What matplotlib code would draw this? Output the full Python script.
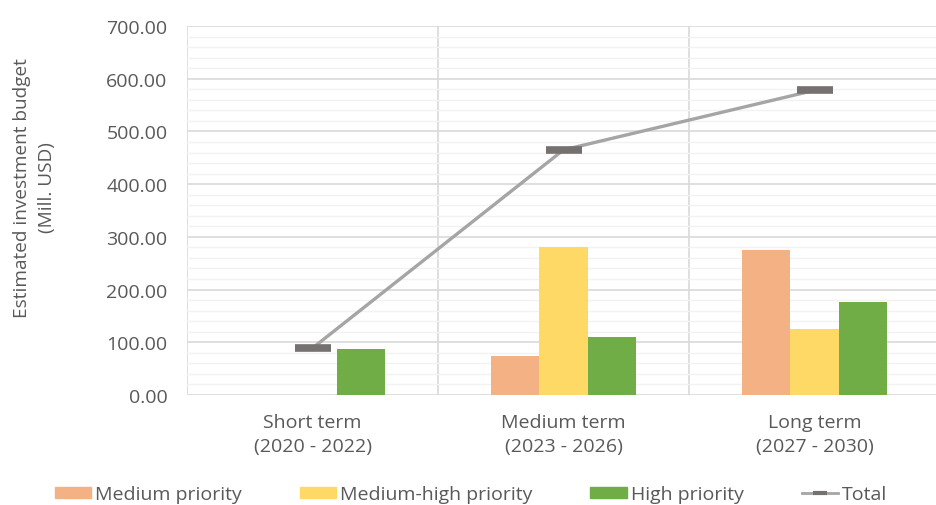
import matplotlib
matplotlib.use("Agg")
import matplotlib.pyplot as plt
import numpy as np
from matplotlib.patches import Patch
from matplotlib.lines import Line2D

plt.rcParams['font.family'] = ['Open Sans', 'DejaVu Sans']

categories = ["Short term\n(2020 - 2022)", "Medium term\n(2023 - 2026)", "Long term\n(2027 - 2030)"]
medium = [0, 74, 275]
medium_high = [0, 281, 125]
high = [88, 110, 176]
total = [89, 465, 578]
series_names = ["Medium priority", "Medium-high priority", "High priority", "Total"]
colors = ["#F4B183", "#FFD966", "#70AD47"]

fig = plt.figure(figsize=(9.36, 5.06), dpi=100)
ax = fig.add_axes([187/936, 1-396/506, 753/936, 369/506])

x = np.arange(len(categories))
w = 0.193
for i, (vals, c) in enumerate(zip([medium, medium_high, high], colors)):
    ax.bar(x + (i-1)*w, vals, width=w, color=c, zorder=3, edgecolor='none')

ax.plot(x, total, color="#A5A5A5", lw=2.4, zorder=4, solid_capstyle='butt')
ax.plot(x, total, ls='none', marker='_', ms=26, mew=5.5, color="#767171", zorder=5)

ax.set_xlim(-0.5, 2.5)
ax.set_ylim(0, 700)
ax.set_yticks(np.arange(0, 701, 100))
ax.set_yticks(np.arange(0, 701, 20), minor=True)
ax.set_yticklabels([f"{v:.2f}" for v in np.arange(0, 701, 100)])
ax.grid(axis='y', which='major', color='#D9D9D9', lw=1.2, zorder=0)
ax.grid(axis='y', which='minor', color='#F2F2F2', lw=1.0, zorder=0)
for b in [-0.5, 0.5, 1.5, 2.5]:
    ax.axvline(b, color='#D9D9D9', lw=1.2, zorder=1)
ax.set_xticks(x)
ax.set_xticklabels(categories, linespacing=1.4)
for s in ax.spines.values():
    s.set_visible(False)
ax.tick_params(axis='both', which='both', length=0, colors='#595959', labelsize=14)
ax.tick_params(axis='y', pad=14)
ax.tick_params(axis='x', pad=13)

fig.text(0.037, 1-188/506, "Estimated investment budget\n(Mill. USD)", rotation=90,
         ha='center', va='center', fontsize=13.7, color='#595959', linespacing=1.5)

handles = [Patch(color=colors[0]), Patch(color=colors[1]), Patch(color=colors[2]),
           Line2D([0], [0], color="#A5A5A5", lw=2.0, marker='_', ms=10, mew=3, mec="#767171", mfc="#767171")]
fig.legend(handles, series_names, loc='center', bbox_to_anchor=(0.503, 0.021), ncol=4,
           frameon=False, fontsize=14, labelcolor='#595959', columnspacing=3.0,
           handlelength=1.86, handleheight=0.55, handletextpad=0.2)

fig.savefig("out.png", dpi=100)
